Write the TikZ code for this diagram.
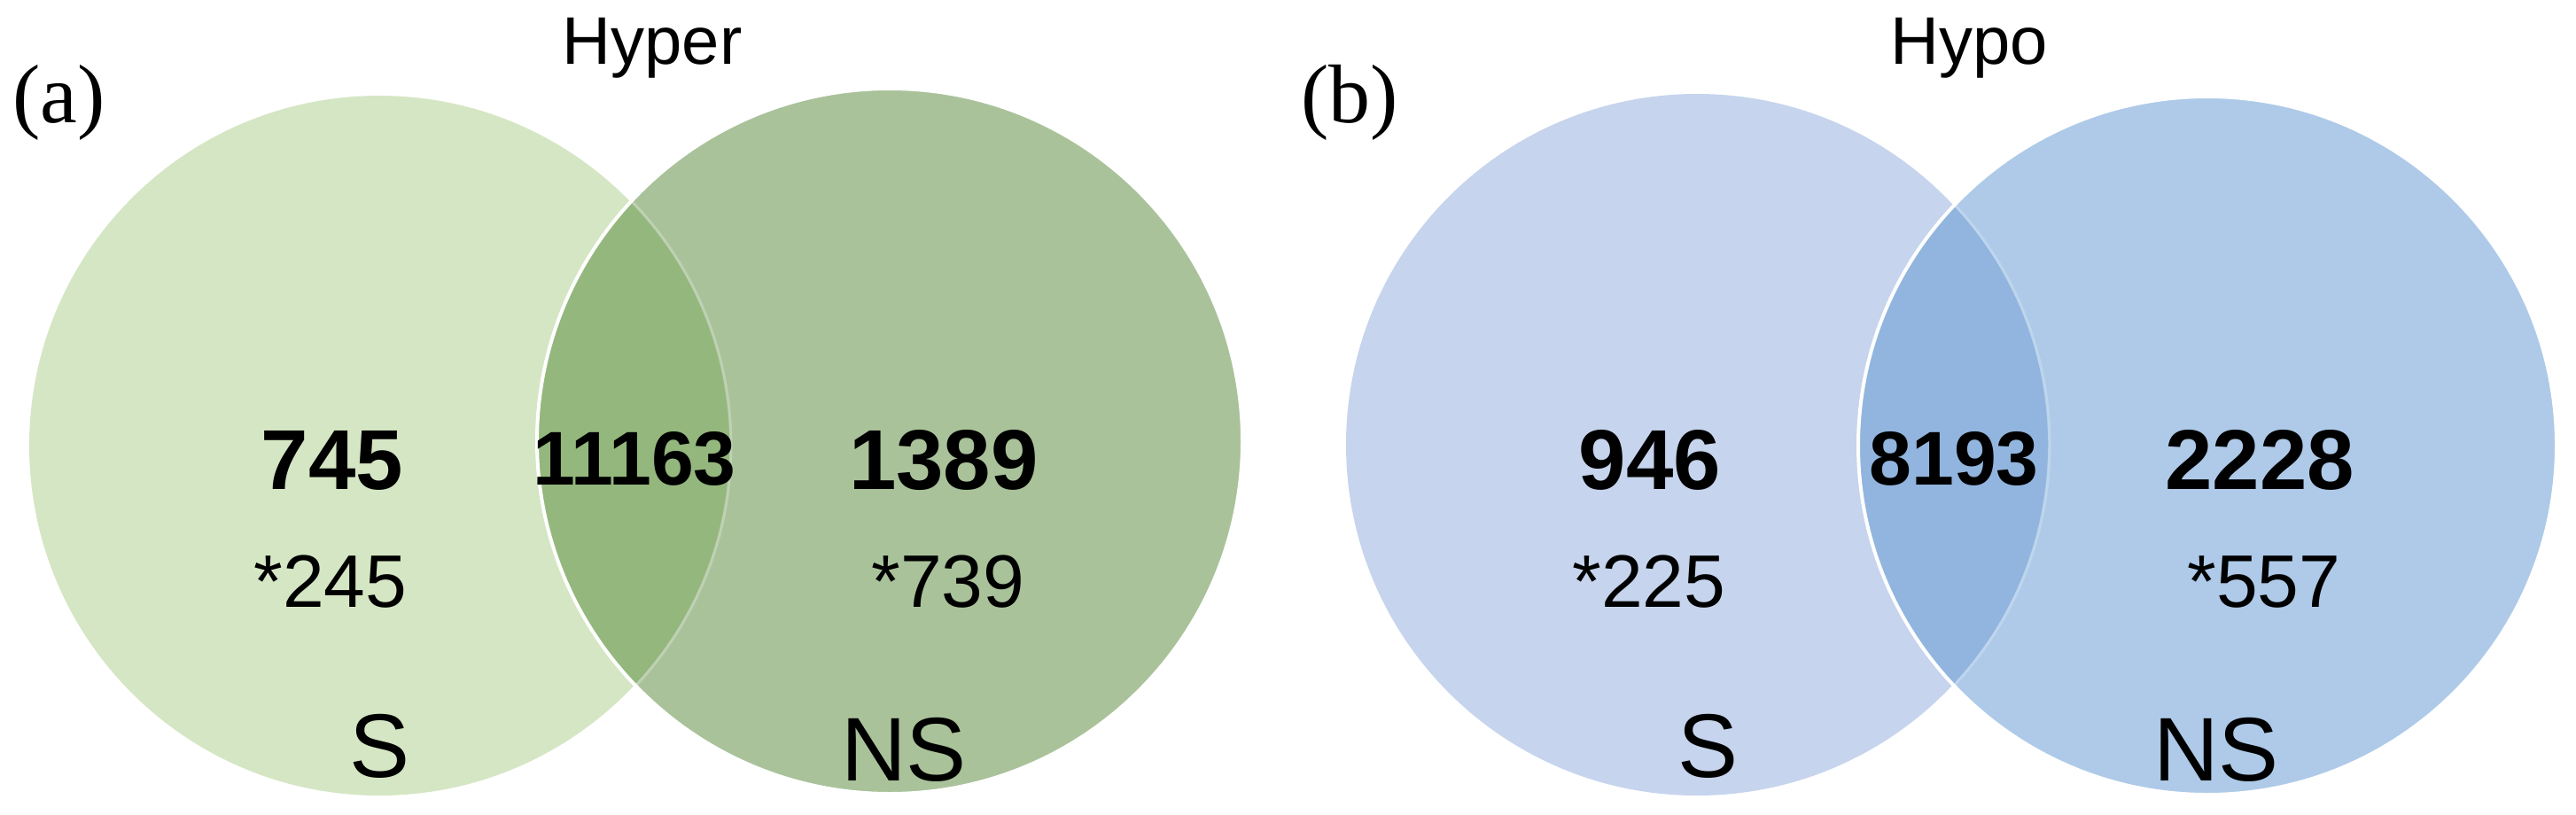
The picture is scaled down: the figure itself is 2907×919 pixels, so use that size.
\documentclass[tikz,border=0pt]{standalone}
\usepackage{fontspec}
\setmainfont{Liberation Sans}
\newfontfamily\panelserif{Liberation Serif}
\definecolor{gS}{RGB}{213,230,196}
\definecolor{gNS}{RGB}{169,194,154}
\definecolor{gL}{RGB}{148,183,125}
\definecolor{bS}{RGB}{198,212,237}
\definecolor{bNS}{RGB}{174,202,232}
\definecolor{bL}{RGB}{145,181,222}
\tikzset{
  bignum/.style={font=\fontsize{96}{96}\selectfont\bfseries, anchor=base, inner sep=0pt},
  midnum/.style={font=\fontsize{86}{86}\selectfont\bfseries, anchor=base, inner sep=0pt},
  starnum/.style={font=\fontsize{84}{84}\selectfont, anchor=base, inner sep=0pt},
  setlab/.style={font=\fontsize{102}{102}\selectfont, anchor=base, inner sep=0pt},
  titlelab/.style={font=\fontsize{76}{76}\selectfont, anchor=base, inner sep=0pt},
  panellab/.style={font=\panelserif\fontsize{94}{94}\selectfont, anchor=base west, inner sep=0pt},
  rim/.style={draw=white, line width=4pt},
  glow/.style={line width=3pt}
}
\begin{document}
\begin{tikzpicture}[x=1pt,y=-1pt]
\useasboundingbox (0,0) rectangle (2907,919);
% ---- panel (a)
\fill[gS] (428,503) circle[radius=395pt];
\fill[gNS] (1004,498) circle[radius=398pt];
\begin{scope}
  \clip (428,503) circle[radius=395pt];
  \fill[gL] (1004,498) circle[radius=398pt];
\end{scope}
\begin{scope}
  \clip (1004,498) circle[radius=398pt];
  \draw[glow, draw=gNS!75!white] (430,503) circle[radius=395pt];
\end{scope}
\draw[rim] (1004,498) circle[radius=398pt];
% ---- panel (b)
\fill[bS] (1915,502) circle[radius=396pt];
\fill[bNS] (2491,503) circle[radius=394pt];
\begin{scope}
  \clip (1915,502) circle[radius=396pt];
  \fill[bL] (2491,503) circle[radius=394pt];
\end{scope}
\begin{scope}
  \clip (2491,503) circle[radius=394pt];
  \draw[glow, draw=bNS!80!white] (1917,502) circle[radius=396pt];
\end{scope}
\draw[rim] (2491,503) circle[radius=394pt];
% ---- texts (a)
\node[panellab] (pa) at (14,138) {(a)};
\node[titlelab] (ta) at (736,72) {Hyper};
\node[bignum] (a1) at (375,552) {745};
\node[midnum] (a2) at (716,547) {11163};
\node[bignum] (a3) at (1065,552) {1389};
\node[starnum] (a4) at (373,685) {*245};
\node[starnum] (a5) at (1070,685) {*739};
\node[setlab] (a6) at (429,877) {S};
\node[setlab] (a7) at (1020,881) {NS};
% ---- texts (b)
\node[panellab] (pb) at (1468,138) {(b)};
\node[titlelab] (tb) at (2222,72) {Hypo};
\node[bignum] (b1) at (1862,552) {946};
\node[midnum] (b2) at (2205,547) {8193};
\node[bignum] (b3) at (2550,552) {2228};
\node[starnum] (b4) at (1861,685) {*225};
\node[starnum] (b5) at (2555,685) {*557};
\node[setlab] (b6) at (1927,877) {S};
\node[setlab] (b7) at (2501,881) {NS};
\end{tikzpicture}
\end{document}
